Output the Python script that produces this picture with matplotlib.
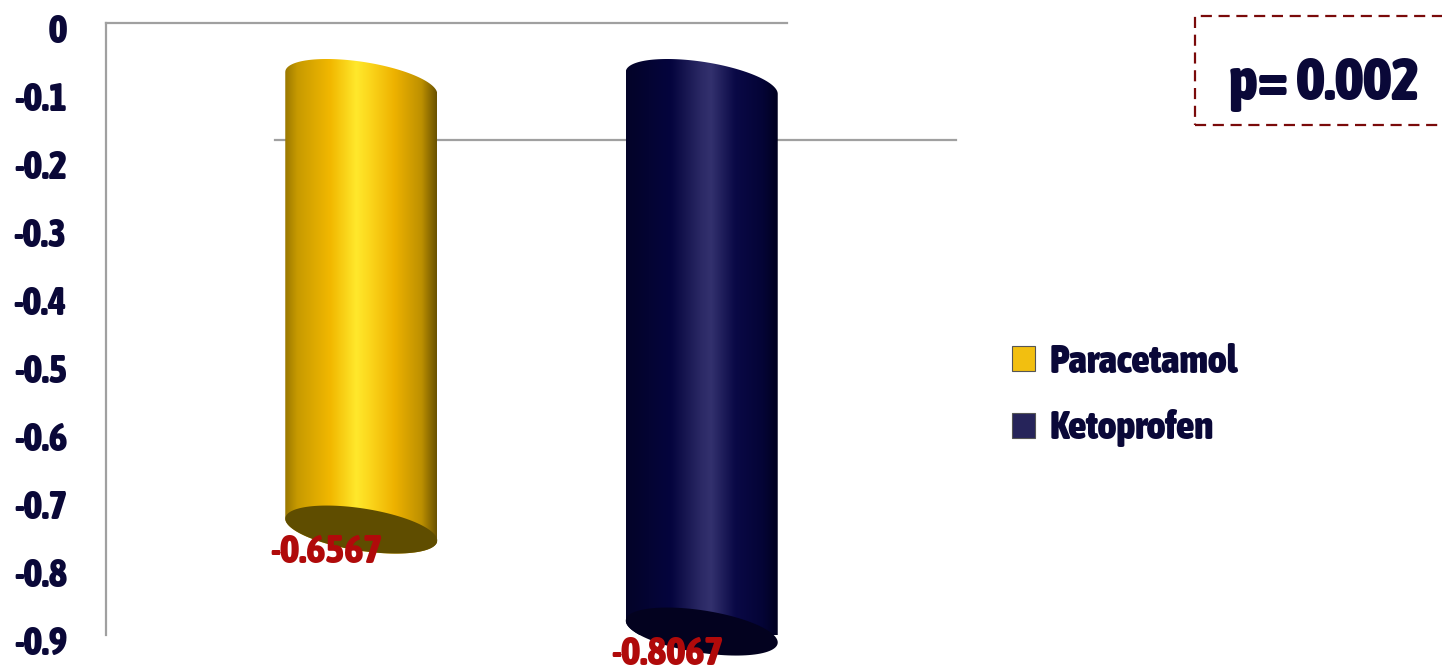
import numpy as np
import matplotlib
matplotlib.use("Agg")
import matplotlib.pyplot as plt
import matplotlib.transforms as mtransforms
from matplotlib import font_manager as fm
from matplotlib.colors import LinearSegmentedColormap
from matplotlib.patches import Polygon, Patch, Rectangle

groups = ['Paracetamol', 'Ketoprofen']
values = [-0.6567, -0.8067]
value_labels = ['-0.6567', '-0.8067']
yticks = [0, -0.1, -0.2, -0.3, -0.4, -0.5, -0.6, -0.7, -0.8, -0.9]
ytick_labels = ['0', '-0.1', '-0.2', '-0.3', '-0.4', '-0.5', '-0.6', '-0.7', '-0.8', '-0.9']
p_text = 'p= 0.002'

# look for a narrow bold face (the original uses an Impact-like font)
narrow = None
for f in fm.fontManager.ttflist:
    key = (f.fname + ' ' + f.name + ' ' + f.style + ' ' + str(f.stretch)).lower()
    if any(k in key for k in ('condensed', 'narrow', 'compressed')) and 'italic' not in key \
            and 'oblique' not in key:
        w = f.weight if isinstance(f.weight, int) else {'bold': 700, 'heavy': 800, 'black': 900}.get(f.weight, 400)
        if w >= 700 and (narrow is None or w > narrow[0]):
            narrow = (w, f.fname)

if narrow:
    font = dict(fontproperties=fm.FontProperties(fname=narrow[1]))
    k = 1.0
else:
    font = dict(family='DejaVu Sans', weight='bold')
    k = 0.75

navy = '#0a0838'
gray = '#a0a0a0'
body_colors = [
    [(0, '#9a7800'), (0.08, '#c79a00'), (0.3, '#f2b800'), (0.47, '#ffe82c'),
     (0.56, '#fbd61c'), (0.72, '#eeb200'), (0.9, '#bd9000'), (1, '#6a5200')],
    [(0, '#030328'), (0.3, '#05053e'), (0.5, '#2c2a66'), (0.56, '#33316e'),
     (0.72, '#0a0946'), (0.9, '#040436'), (1, '#010120')],
]
cap_colors = ['#5f4d00', '#03021f']
legend_colors = ['#f2bf10', '#26245a']

W, H = 1442, 665
fig = plt.figure(figsize=(W / 100, H / 100), dpi=100)
ax = fig.add_axes([106 / W, 30 / H, 681 / W, 612 / H])
ax.set_xlim(0, 2)
ax.set_ylim(-0.9, 0)

for s in ['right', 'bottom']:
    ax.spines[s].set_visible(False)
for s in ['left', 'top']:
    ax.spines[s].set_color(gray)
    ax.spines[s].set_linewidth(1.6)
ax.set_xticks([])
ax.set_yticks(yticks)
ax.set_yticklabels(ytick_labels, color=navy, **font)
ax.tick_params(axis='y', length=0, pad=28)
for lab in ax.get_yticklabels():
    lab.set_fontsize(28 * k)
    lab.set_transform(lab.get_transform() + mtransforms.ScaledTranslation(0, -0.05, fig.dpi_scale_trans))

# front edge of the floor (depth shifted copy of the zero line)
front = ax.transData + mtransforms.ScaledTranslation(1.69, -1.17, fig.dpi_scale_trans)
ax.plot([0, 2], [0, 0], color=gray, lw=1.6, transform=front, clip_on=False, zorder=1)

# cylinder geometry in pixels
depth = np.array([85, -60])
a, b, c = 67.7, 34.5, 24.0
half_w = np.hypot(a, b)
t1 = np.arctan2(b, a)


def ellipse_pts(center, t):
    return np.column_stack([center[0] + a * np.cos(t) + b * np.sin(t),
                            center[1] - c * np.sin(t)])


ident = mtransforms.IdentityTransform()
for i, val in enumerate(values):
    xc = i + 0.5
    p_top = ax.transData.transform((xc, 0)) + depth
    p_bot = ax.transData.transform((xc, val)) + depth
    top_arc = ellipse_pts(p_top, np.linspace(t1 + np.pi, t1 + 2 * np.pi, 80))
    bot_arc = ellipse_pts(p_bot, np.linspace(t1, t1 + np.pi, 80))
    outline = Polygon(np.vstack([top_arc, bot_arc]), closed=True, transform=ident,
                      facecolor='none', edgecolor='none', zorder=3, clip_on=False)
    ax.add_patch(outline)
    cmap = LinearSegmentedColormap.from_list('body%d' % i, body_colors[i])
    img = ax.imshow(np.linspace(0, 1, 256)[None, :], cmap=cmap, aspect='auto',
                    interpolation='bicubic', transform=ident, zorder=3,
                    extent=(p_top[0] - half_w, p_top[0] + half_w, p_bot[1] - 40, p_top[1] + 40))
    img.set_clip_path(outline)
    cap = Polygon(ellipse_pts(p_bot, np.linspace(0, 2 * np.pi, 120)), closed=True,
                  transform=ident, facecolor=cap_colors[i], edgecolor='none', zorder=4, clip_on=False)
    ax.add_patch(cap)
    ax.annotate(value_labels[i], xy=(xc, val), xytext=(36.5, -59), textcoords='offset points',
                ha='center', va='center', fontsize=29 * k, color='#b00a0a', zorder=6,
                annotation_clip=False, **font)

ax.set_xlim(0, 2)
ax.set_ylim(-0.9, 0)

handles = [Patch(facecolor=legend_colors[i], edgecolor='#555555', lw=0.8) for i in range(2)]
prop = font['fontproperties'].copy() if narrow else fm.FontProperties(family='DejaVu Sans', weight='bold')
prop.set_size(28.5 * k)
fig.legend(handles, groups, loc='center left', bbox_to_anchor=(976 / W, 1 - 395 / H),
           frameon=False, prop=prop, labelcolor=navy, handlelength=0.6 / k, handleheight=0.6 / k,
           handletextpad=0.35, labelspacing=0.72 / k)

# dashed box around the p value (runs off the right edge as in the original)
fig.patches.append(Rectangle((1195 / W, 1 - 125 / H), 300 / W, 109 / H, transform=fig.transFigure,
                             facecolor='none', edgecolor='#7a0a0a', lw=1.6, linestyle=(0, (5, 3))))
fig.text(1324 / W, 1 - 83 / H, p_text, ha='center', va='center', fontsize=43 * k, color=navy, **font)

fig.savefig('out.png', dpi=100, facecolor='white')
